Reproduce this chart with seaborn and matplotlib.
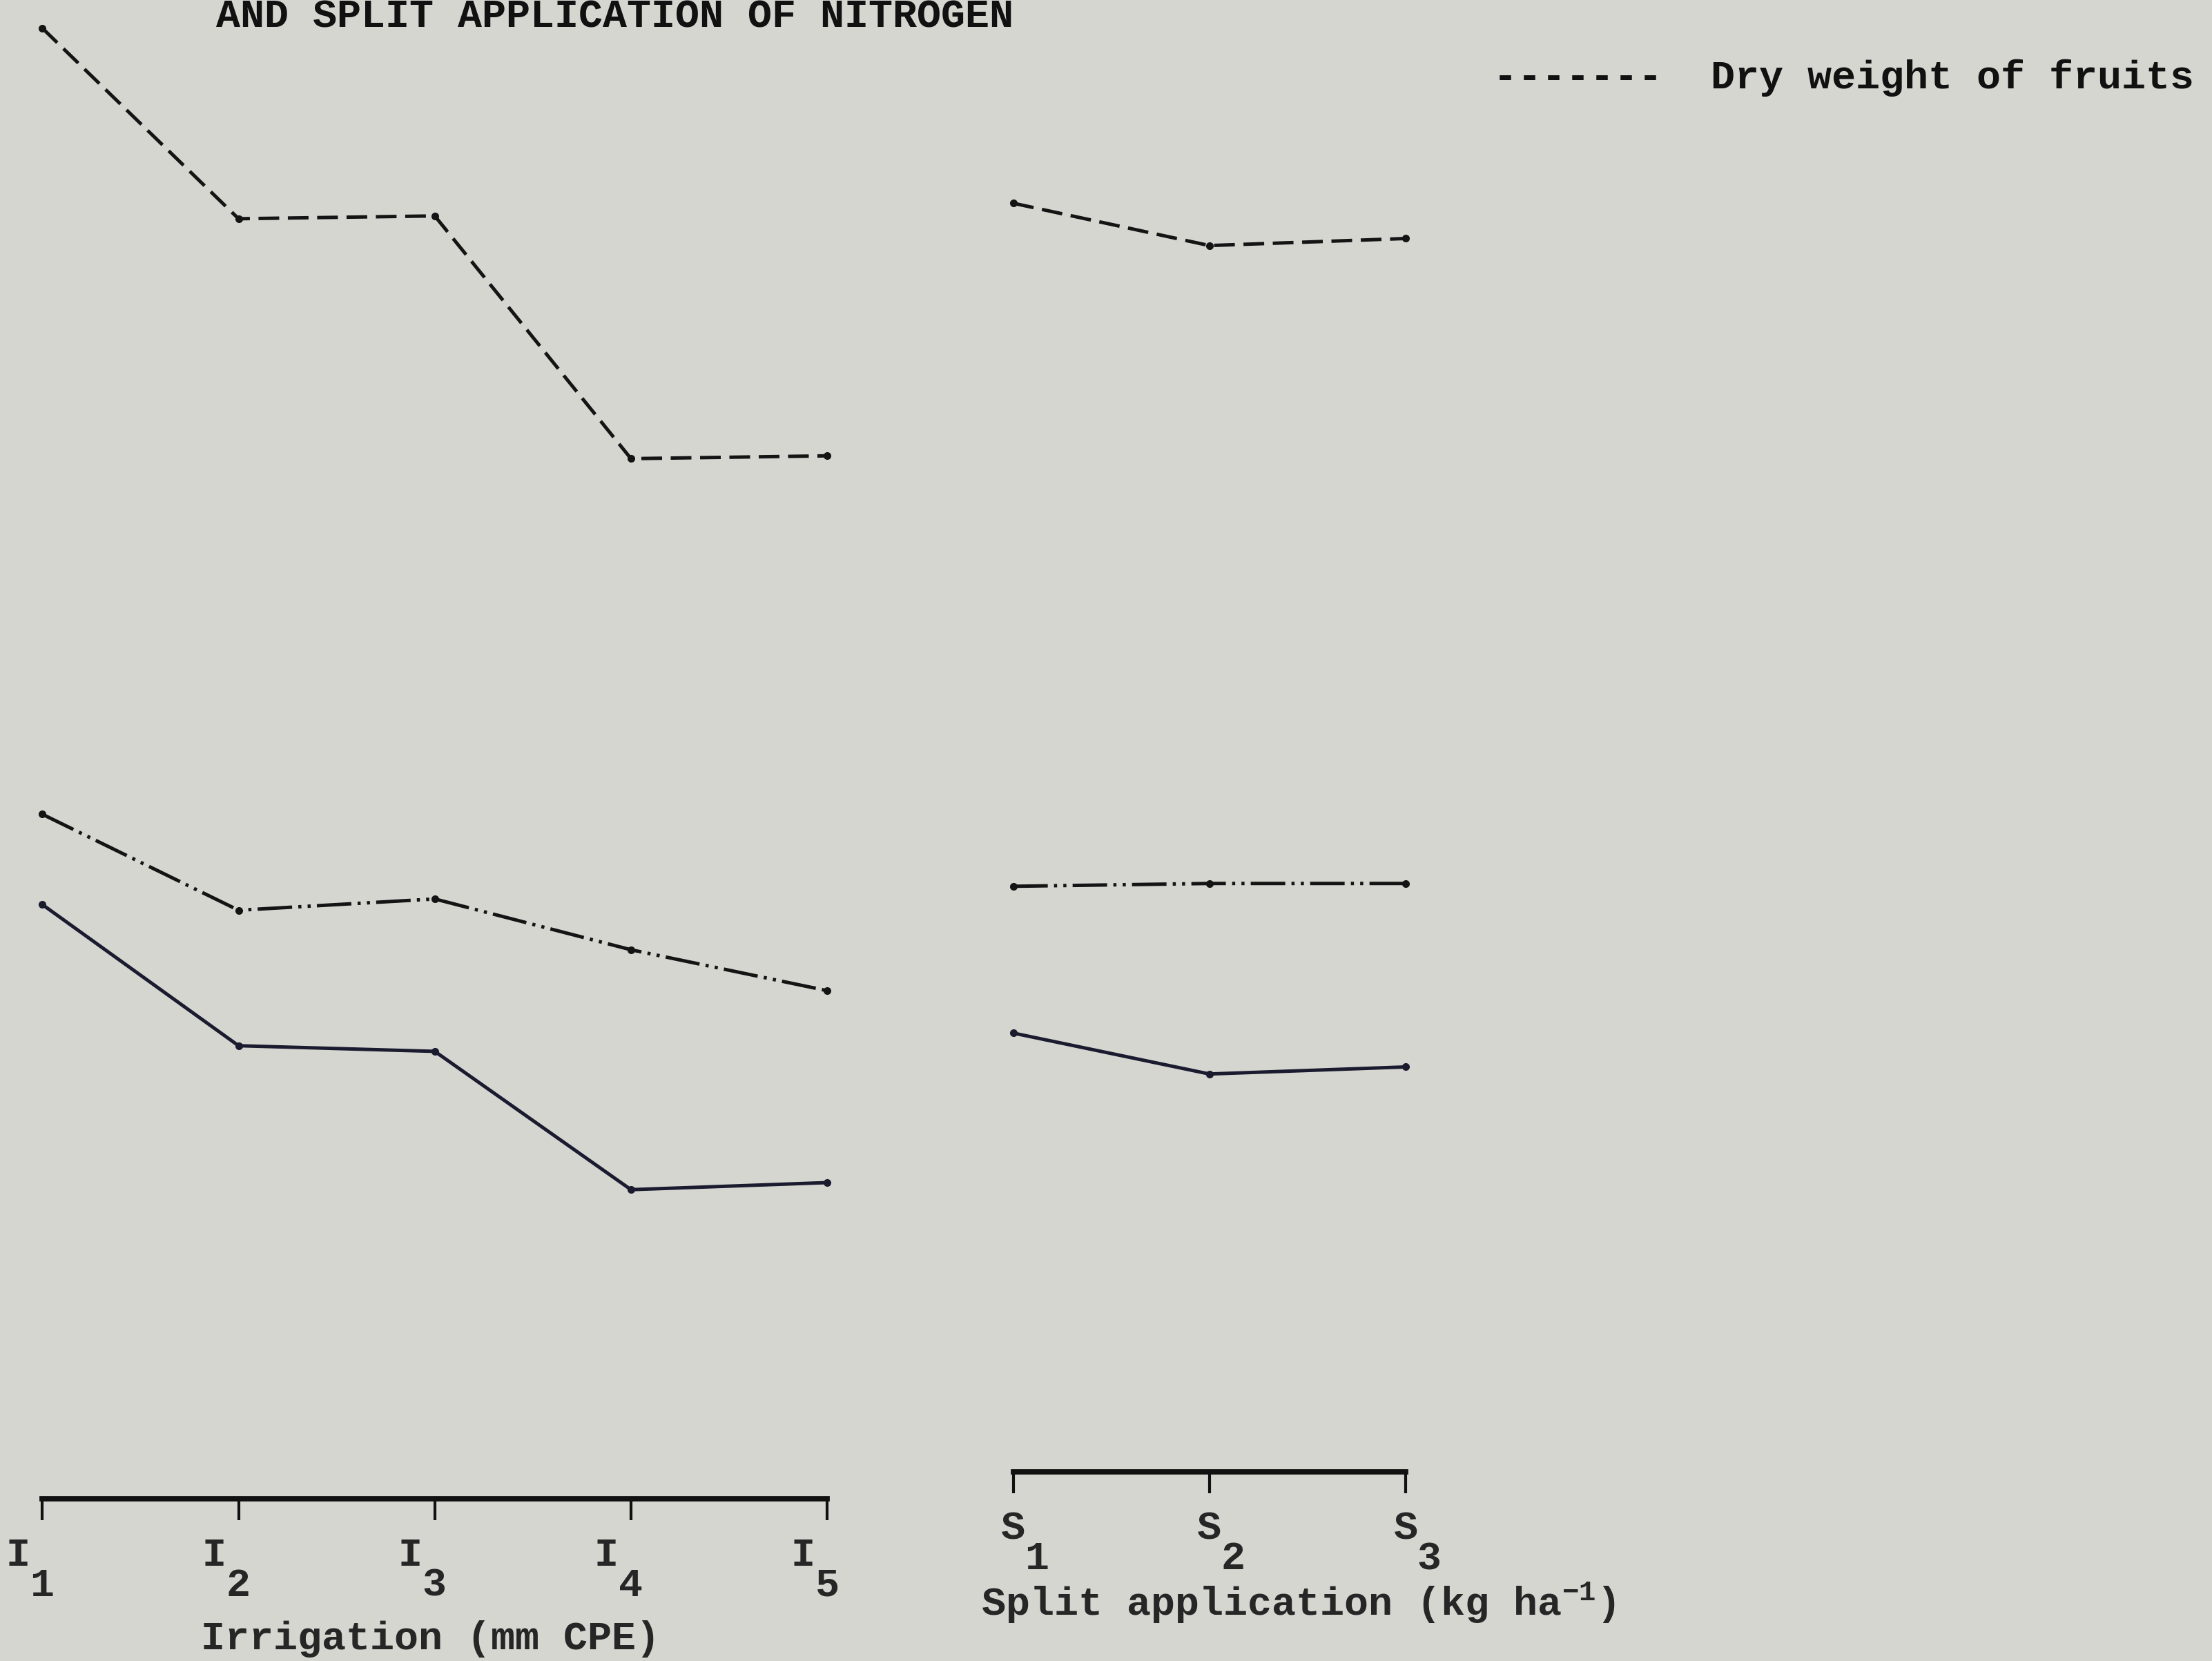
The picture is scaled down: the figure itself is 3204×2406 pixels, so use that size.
import numpy as np
import pandas as pd
import matplotlib
matplotlib.use("Agg")
import matplotlib.pyplot as plt
import seaborn as sns

# --- data (relative heights, no y scale is printed) ---
IRR_LABELS = ["I  \n 1 ", "I  \n 2 ", "I  \n 3 ", "I  \n 4 ", "I  \n 5 "]
SPLIT_LABELS = ["S\n  1", "S\n  2", "S\n  3"]

irr_dry_weight = [115.7, 102.2, 102.4, 85.2, 85.4]
irr_dashdot = [60.0, 53.2, 54.0, 50.4, 47.5]
irr_solid = [53.6, 43.6, 43.2, 33.4, 33.9]

split_dry_weight = [103.3, 100.3, 100.8]
split_dashdot = [54.9, 55.1, 55.1]
split_solid = [44.5, 41.6, 42.1]

SERIES = ["Dry weight of fruits", "dashdot", "solid"]
PALETTE = {"Dry weight of fruits": "#141414", "dashdot": "#141414", "solid": "#1b1b30"}
DASHES = {"Dry weight of fruits": (6, 2.5), "dashdot": (10, 1.8, 0.9, 1.8, 0.9, 1.8), "solid": ""}
MARKERS = {"Dry weight of fruits": "o", "dashdot": "o", "solid": "o"}

BG = "#d6d6d1"


def long_frame(values_by_series):
    rows = []
    for name, vals in zip(SERIES, values_by_series):
        for i, v in enumerate(vals):
            rows.append({"pos": i, "series": name, "value": v})
    return pd.DataFrame(rows)


df_irr = long_frame([irr_dry_weight, irr_dashdot, irr_solid])
df_split = long_frame([split_dry_weight, split_dashdot, split_solid])

sns.set_theme(style="white")
plt.rcParams["font.family"] = ["Liberation Mono", "DejaVu Sans Mono"]
plt.rcParams["font.weight"] = "bold"
plt.rcParams["mathtext.fontset"] = "custom"
plt.rcParams["mathtext.rm"] = "Liberation Mono:bold"
plt.rcParams["mathtext.default"] = "rm"
plt.rcParams["text.color"] = "#111111"

FS = 21
fig = plt.figure(figsize=(16.025, 12.03), dpi=200, facecolor=BG)

# irrigation categories sit at x = 30 ... 586 (of 1568), split at 718 ... 996
ax_i = fig.add_axes([0.0, 0.0977, 0.3827, 0.9023])
ax_s = fig.add_axes([0.4082, 0.1138, 0.2742, 0.8862])


def draw_panel(ax, df, labels, xlim, ylim, xlabel, label_xy):
    sns.lineplot(data=df, x="pos", y="value", hue="series", style="series",
                 palette=PALETTE, dashes=DASHES, markers=MARKERS,
                 markersize=4, markeredgewidth=0, linewidth=1.8,
                 legend=False, ax=ax)
    ax.set_facecolor("none")
    ax.set_xlim(*xlim)
    ax.set_ylim(*ylim)
    for side in ["top", "left", "right"]:
        ax.spines[side].set_visible(False)
    ax.spines["bottom"].set_visible(True)
    ax.spines["bottom"].set_color("#111111")
    ax.spines["bottom"].set_linewidth(2.8)
    ax.spines["bottom"].set_bounds(0, len(labels) - 1)
    ax.set_xticks(np.arange(len(labels)))
    ax.set_xticklabels(labels, linespacing=0.75, fontweight="bold")
    ax.set_yticks([])
    ax.set_ylabel("")
    ax.tick_params(axis="x", bottom=True, direction="out", length=11, width=1.5,
                   color="#111111", pad=9, labelsize=FS)
    ax.set_xlabel(xlabel, fontsize=FS, fontweight="bold")
    ax.xaxis.set_label_coords(*label_xy)


draw_panel(ax_i, df_irr, IRR_LABELS, (-0.216, 4.1), (11.5, 117.7),
           "Irrigation (mm CPE)", (0.508, -0.081))
draw_panel(ax_s, df_split, SPLIT_LABELS, (-0.561, 2.532), (13.4, 117.7),
           "Split application (kg ha$^{-1}$)", (0.651, -0.074))

# title line (partly cut by the top of the page) and key
fig.text(153 / 1568, 1 - 12 / 1177, "AND SPLIT APPLICATION OF NITROGEN",
         fontsize=FS, va="center", ha="left", fontweight="bold")
fig.text(1058 / 1568, 1 - 55 / 1177, "-------  Dry weight of fruits",
         fontsize=FS, va="center", ha="left", fontweight="bold")

fig.savefig("out.png", dpi=200, facecolor=BG)
